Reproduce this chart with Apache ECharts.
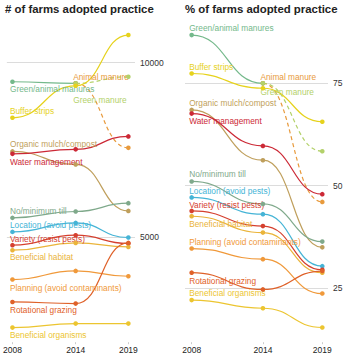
<!DOCTYPE html>
<html>
<head>
<meta charset="utf-8">
<script src="https://cdn.jsdelivr.net/npm/echarts@6/dist/echarts.min.js"></script>
<style>html,body{margin:0;padding:0;background:#fff}#c{width:360px;height:360px}</style>
</head>
<body>
<div id="c"></div>
<script>
// ---- data ----
const years = [2008, 2014, 2019];
const practices = ['Green/animal manures', 'Animal manure', 'Green manure', 'Buffer strips',
  'Organic mulch/compost', 'Water management', 'No/minimum till', 'Location (avoid pests)',
  'Variety (resist pests)', 'Beneficial habitat', 'Planning (avoid contaminants)',
  'Rotational grazing', 'Beneficial organisms'];

// number of farms (2008, 2014, 2019)
const farmsGreenAnimalManures = [9456, 9410, null];
const farmsAnimalManure = [null, 9410, 7564];
const farmsGreenManure = [null, 9410, 9599];
const farmsBufferStrips = [8424, 9340, 10793];
const farmsOrganicMulch = [7461, 7089, 5759];
const farmsWaterManagement = [7393, 7521, 7891];
const farmsNoMinimumTill = [5559, 5742, 5980];
const farmsLocation = [5158, 5415, 4997];
const farmsVariety = [4777, 5063, 4825];
const farmsBeneficialHabitat = [4633, 4842, 4728];
const farmsPlanning = [3794, 4040, 3888];
const farmsRotationalGrazing = [3152, 3106, 4842];
const farmsBeneficialOrganisms = [2418, 2533, 2533];

// percent of farms (2008, 2014, 2019)
const pctGreenAnimalManures = [86.8, 75.0, null];
const pctAnimalManure = [null, 75.0, 46.0];
const pctGreenManure = [null, 75.0, 58.4];
const pctBufferStrips = [77.4, 73.8, 65.6];
const pctOrganicMulch = [68.5, 56.2, 34.9];
const pctWaterManagement = [67.6, 59.7, 47.9];
const pctNoMinimumTill = [51.0, 45.5, 36.3];
const pctLocation = [47.1, 43.0, 30.3];
const pctVariety = [43.8, 40.1, 29.4];
const pctBeneficialHabitat = [42.5, 38.5, 28.7];
const pctPlanning = [34.6, 32.0, 23.6];
const pctRotationalGrazing = [28.7, 24.6, 29.1];
const pctBeneficialOrganisms = [22.0, 20.0, 15.3];

const farmTicks = [5000, 10000];
const pctTicks = [25, 50, 75];

const farmsAll = [farmsGreenAnimalManures, farmsAnimalManure, farmsGreenManure, farmsBufferStrips,
  farmsOrganicMulch, farmsWaterManagement, farmsNoMinimumTill, farmsLocation, farmsVariety,
  farmsBeneficialHabitat, farmsPlanning, farmsRotationalGrazing, farmsBeneficialOrganisms];
const pctAll = [pctGreenAnimalManures, pctAnimalManure, pctGreenManure, pctBufferStrips,
  pctOrganicMulch, pctWaterManagement, pctNoMinimumTill, pctLocation, pctVariety,
  pctBeneficialHabitat, pctPlanning, pctRotationalGrazing, pctBeneficialOrganisms];

// ---- styles ----
const colors = ['#74b98b', '#e89a3c', '#b3d16a', '#e6d21c', '#bf9f5c', '#cc2936', '#7fa98b',
  '#45b4d6', '#d5402f', '#eab43a', '#f0993a', '#df6129', '#ecc530'];
const dashed = [false, true, true, false, false, false, false, false, false, false, false, false, false];
const leftLabelDy = [7.5, -6.5, 17, -6.7, -7, 8, -7, -6.5, -6, 6.7, 8, 7.6, 7.7];
const rightLabelDy = [-7, -6.5, 9, -6.5, -7, 7.5, -7.5, -6.6, -5.8, 8, -6.6, 8, -7.3];
const FONT = '"Liberation Sans", Arial, sans-serif';

function buildSeries(name, vals, idx, color, isDashed, dy) {
  const pts = [];
  years.forEach((y, i) => { if (vals[i] != null) pts.push([y, vals[i]]); });
  const data = pts.map((p, i) => {
    const n = pts[i + 1] || p;
    return [p[0], p[1], n[0], n[1], i === 0 ? 1 : 0, pts[i + 1] ? 1 : 0];
  });
  return {
    type: 'custom', name: name, xAxisIndex: idx, yAxisIndex: idx, data: data,
    encode: { x: [0, 2], y: [1, 3] },
    silent: true,
    renderItem: function (params, api) {
      const a = api.coord([api.value(0), api.value(1)]);
      const b = api.coord([api.value(2), api.value(3)]);
      const children = [];
      if (api.value(5)) {
        const mx = (a[0] + b[0]) / 2;
        children.push({
          type: 'bezierCurve',
          shape: { x1: a[0], y1: a[1], cpx1: mx, cpy1: a[1], cpx2: mx, cpy2: b[1], x2: b[0], y2: b[1] },
          style: { stroke: color, lineWidth: 1.2, fill: null, lineDash: isDashed ? [4, 3] : null }
        });
      }
      children.push({ type: 'circle', z2: 10, shape: { cx: a[0], cy: a[1], r: 2.3 }, style: { fill: color } });
      if (api.value(4)) {
        children.push({
          type: 'text', z2: 5, x: a[0] - 2.5, y: a[1] + dy,
          style: { text: name, fill: color, font: '8.3px ' + FONT, align: 'left', verticalAlign: 'middle' }
        });
      }
      return { type: 'group', children: children };
    }
  };
}

const series = [];
practices.forEach((p, i) => {
  series.push(buildSeries(p, farmsAll[i], 0, colors[i], dashed[i], leftLabelDy[i]));
  series.push(buildSeries(p, pctAll[i], 1, colors[i], dashed[i], rightLabelDy[i]));
});

function xAxisCfg(idx, min, max) {
  return {
    type: 'value', gridIndex: idx, min: min, max: max,
    axisLine: { show: false },
    splitLine: { show: false },
    axisTick: { show: true, length: 2, lineStyle: { color: '#ccc' }, customValues: years },
    axisLabel: { customValues: years, margin: 3, color: '#222', fontSize: 8.5, fontFamily: FONT, formatter: v => String(v) }
  };
}
function yAxisCfg(idx, min, max, ticks) {
  return {
    type: 'value', gridIndex: idx, position: 'right', min: min, max: max,
    axisLine: { show: false },
    axisTick: { show: false, customValues: ticks },
    splitLine: { show: true, lineStyle: { color: '#dcdcdc', width: 1 } },
    axisLabel: { customValues: ticks, margin: 5, color: '#333', fontSize: 8.5, fontFamily: FONT, formatter: v => String(v) }
  };
}

const chart = echarts.init(document.getElementById('c'), null, { renderer: 'svg' });
chart.setOption({
  animation: false,
  backgroundColor: '#fff',
  title: [
    { text: '# of farms adopted practice', left: 5, top: 3, padding: 0, textStyle: { fontSize: 11.4, fontWeight: 'bold', color: '#222', fontFamily: FONT } },
    { text: '% of farms adopted practice', left: 185, top: 3, padding: 0, textStyle: { fontSize: 11.4, fontWeight: 'bold', color: '#222', fontFamily: FONT } }
  ],
  grid: [
    { left: 5, width: 130, top: 27.8, height: 314.4 },
    { left: 185, width: 143, top: 27.7, height: 314.5 }
  ],
  xAxis: [xAxisCfg(0, 2007.47, 2019.63), xAxisCfg(1, 2007.44, 2019.48)],
  yAxis: [yAxisCfg(0, 2000, 11000, farmTicks), yAxisCfg(1, 11.7, 88.6, pctTicks)],
  series: series
});
</script>
</body>
</html>
